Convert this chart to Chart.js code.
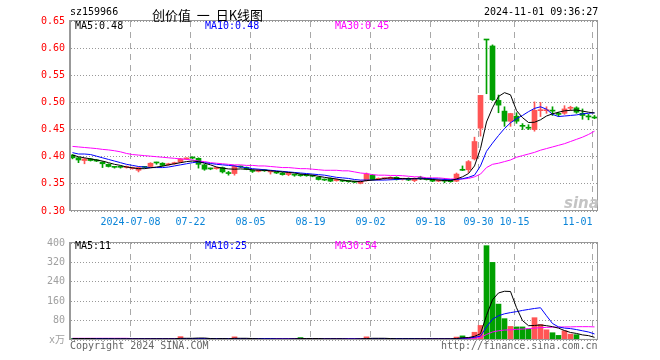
<!DOCTYPE html>
<html>
<head>
<meta charset="utf-8">
<script src="https://cdn.jsdelivr.net/npm/chart.js@4.4.1/dist/chart.umd.min.js"></script>
<style>
body { margin: 0; width: 660px; height: 360px; position: relative; background: #fff; overflow: hidden;
       font-family: 'DejaVu Sans Mono', monospace; font-size: 10px; }
.t { position: absolute; white-space: pre; line-height: 1; }
#price { position: absolute; left: 0; top: 0; }
#vol { position: absolute; left: 0; top: 232px; }
</style>
</head>
<body>
<canvas id="price" width="660" height="232"></canvas>
<canvas id="vol" width="660" height="128"></canvas>

<div class="t" style="left:70px;top:7px">sz159966</div>
<div class="t" style="left:152px;top:5px;font:13px 'Noto Sans CJK SC'">创价值  一  日K线图</div>
<div class="t" style="left:484px;top:7px">2024-11-01 09:36:27</div>
<div class="t" style="left:75px;top:21px;color:#000">MA5:0.48</div>
<div class="t" style="left:205px;top:21px;color:#0000ff">MA10:0.48</div>
<div class="t" style="left:335px;top:21px;color:#ff00ff">MA30:0.45</div>
<div class="t" style="left:75px;top:241px;color:#000">MA5:11</div>
<div class="t" style="left:205px;top:241px;color:#0000ff">MA10:25</div>
<div class="t" style="left:335px;top:241px;color:#ff00ff">MA30:54</div>
<div class="t" style="left:70px;top:341px;color:#666">Copyright 2024 SINA.COM</div>
<div class="t" style="left:441px;top:341px;color:#666">http://finance.sina.com.cn</div>
<div class="t" style="left:564px;top:194px;color:#c4c4c4;font:italic bold 15px 'DejaVu Sans'">sina</div>

<script>
// daily K, 2024-06-24 .. 2024-11-01 (88 sessions)
const tickIdx = [10, 20, 30, 40, 50, 60, 68, 74, 87];
const tickLabels = ['2024-07-08', '07-22', '08-05', '08-19', '09-02', '09-18', '09-30', '10-15', '11-01     '];
const priceTicks = [0.30, 0.35, 0.40, 0.45, 0.50, 0.55, 0.60, 0.65];
const volTicks = [0, 80, 160, 240, 320, 400];

const open = [0.403,0.398,0.393,0.396,0.394,0.390,0.386,0.381,0.381,0.380,
  0.378,0.375,0.381,0.382,0.389,0.388,0.385,0.387,0.390,0.396,
  0.398,0.397,0.385,0.378,0.378,0.380,0.3695,0.369,0.3815,0.380,
  0.3735,0.373,0.3745,0.372,0.3705,0.370,0.367,0.3665,0.367,0.3655,
  0.3645,0.362,0.3575,0.360,0.356,0.3555,0.3545,0.3535,0.351,0.356,
  0.366,0.358,0.3595,0.359,0.362,0.3585,0.360,0.356,0.3605,0.3585,
  0.358,0.355,0.3555,0.357,0.355,0.3755,0.376,0.396,0.4525,0.616,
  0.604,0.5037,0.484,0.4654,0.4747,0.4565,0.453,0.450,0.4848,0.4848,
  0.4845,0.4785,0.480,0.4892,0.490,0.480,0.4738,0.4718];
const high = [0.404,0.399,0.397,0.397,0.395,0.391,0.387,0.382,0.383,0.383,
  0.381,0.381,0.382,0.389,0.390,0.389,0.388,0.390,0.397,0.398,
  0.400,0.398,0.386,0.379,0.381,0.381,0.373,0.384,0.383,0.381,
  0.376,0.377,0.376,0.374,0.372,0.371,0.371,0.368,0.368,0.367,
  0.366,0.363,0.359,0.361,0.359,0.357,0.356,0.355,0.356,0.370,
  0.367,0.361,0.361,0.363,0.363,0.360,0.361,0.361,0.364,0.360,
  0.359,0.358,0.360,0.358,0.370,0.383,0.393,0.436,0.513,0.616,
  0.606,0.5136,0.492,0.480,0.481,0.461,0.459,0.501,0.500,0.492,
  0.492,0.482,0.494,0.493,0.492,0.488,0.478,0.476];
const low = [0.396,0.389,0.387,0.392,0.391,0.380,0.381,0.379,0.379,0.379,
  0.377,0.372,0.379,0.381,0.386,0.383,0.384,0.386,0.389,0.395,
  0.396,0.379,0.375,0.376,0.377,0.370,0.366,0.366,0.380,0.376,
  0.371,0.372,0.373,0.368,0.369,0.366,0.365,0.364,0.364,0.364,
  0.363,0.357,0.356,0.354,0.355,0.354,0.353,0.352,0.350,0.355,
  0.357,0.357,0.358,0.358,0.357,0.357,0.356,0.354,0.358,0.357,
  0.354,0.354,0.352,0.353,0.354,0.3745,0.371,0.394,0.438,0.516,
  0.503,0.481,0.456,0.456,0.4615,0.450,0.450,0.447,0.474,0.480,
  0.476,0.474,0.478,0.485,0.480,0.469,0.468,0.470];
const close = [0.398,0.394,0.396,0.393,0.392,0.387,0.382,0.3805,0.3805,0.382,
  0.380,0.380,0.3805,0.388,0.3885,0.384,0.387,0.389,0.396,0.397,
  0.3975,0.386,0.377,0.3775,0.380,0.372,0.369,0.383,0.381,0.377,
  0.373,0.376,0.374,0.3725,0.370,0.367,0.370,0.366,0.365,0.365,
  0.364,0.358,0.357,0.355,0.358,0.355,0.354,0.353,0.355,0.368,
  0.358,0.360,0.360,0.362,0.358,0.359,0.357,0.360,0.360,0.358,
  0.355,0.357,0.355,0.354,0.368,0.375,0.391,0.428,0.513,0.615,
  0.505,0.495,0.4654,0.4796,0.4654,0.456,0.4525,0.4855,0.4853,0.4853,
  0.484,0.478,0.488,0.4897,0.482,0.476,0.4733,0.4713];

const ma5 = [0.403,0.400,0.398,0.396,0.394,0.392,0.389,0.386,0.384,0.381,
  0.3795,0.378,0.378,0.3795,0.381,0.3825,0.385,0.387,0.389,0.391,
  0.392,0.391,0.388,0.385,0.381,0.379,0.3775,0.377,0.3775,0.377,
  0.376,0.375,0.375,0.374,0.373,0.372,0.371,0.370,0.368,0.367,
  0.366,0.364,0.362,0.3605,0.359,0.357,0.3555,0.3548,0.354,0.356,
  0.357,0.358,0.360,0.361,0.360,0.3598,0.3595,0.3595,0.359,0.359,
  0.358,0.357,0.356,0.356,0.359,0.363,0.369,0.383,0.415,0.464,
  0.490,0.511,0.518,0.514,0.485,0.472,0.463,0.4635,0.468,0.475,
  0.479,0.482,0.4845,0.4855,0.486,0.484,0.482,0.4805];
const ma10 = [0.4075,0.405,0.405,0.404,0.401,0.398,0.395,0.392,0.389,0.386,
  0.384,0.382,0.381,0.380,0.380,0.380,0.381,0.383,0.385,0.387,
  0.389,0.3905,0.389,0.3875,0.386,0.385,0.384,0.383,0.381,0.380,
  0.378,0.377,0.376,0.375,0.374,0.373,0.372,0.371,0.370,0.369,
  0.368,0.367,0.366,0.364,0.362,0.361,0.360,0.358,0.357,0.357,
  0.357,0.357,0.357,0.3575,0.358,0.359,0.359,0.3595,0.360,0.360,
  0.3595,0.359,0.358,0.3575,0.358,0.3595,0.362,0.366,0.383,0.410,
  0.425,0.439,0.452,0.4625,0.470,0.476,0.483,0.489,0.492,0.4875,
  0.478,0.474,0.475,0.476,0.477,0.479,0.480,0.481];
const ma30 = [0.419,0.418,0.417,0.416,0.415,0.4135,0.4125,0.411,0.409,0.406,
  0.404,0.403,0.402,0.401,0.400,0.399,0.398,0.397,0.396,0.395,
  0.394,0.392,0.391,0.389,0.388,0.387,0.386,0.385,0.385,0.384,
  0.384,0.383,0.383,0.382,0.381,0.380,0.380,0.379,0.378,0.378,
  0.377,0.376,0.375,0.375,0.375,0.374,0.374,0.372,0.370,0.369,
  0.367,0.366,0.366,0.3655,0.3655,0.365,0.364,0.363,0.363,0.361,
  0.361,0.361,0.360,0.359,0.359,0.359,0.360,0.363,0.368,0.380,
  0.386,0.388,0.391,0.394,0.399,0.402,0.405,0.408,0.412,0.415,
  0.418,0.421,0.424,0.428,0.432,0.436,0.441,0.447];

// volume, 万
const volume = [6,5,7,5,4,6,5,4,5,4,
  5,7,4,6,5,4,5,6,14,6,
  5,7,6,4,5,6,5,13,5,4,
  4,5,4,4,5,4,4,6,10,5,
  4,5,4,5,5,4,4,4,6,13,
  7,5,4,5,6,4,5,6,5,4,
  5,4,6,5,12,17,10,32,60,389,
  320,148,88,56,54,54,45,92,64,42,
  30,19,38,24,22,3,3,3];
const volMa5 = [6,6,6,6,5,5,5,5,5,5,
  5,5,5,5,5,5,5,5,7,7,
  7,8,8,6,5,6,5,7,7,7,
  6,5,4,4,4,4,4,5,6,6,
  6,6,5,5,5,5,4,4,5,6,
  7,7,7,6,5,5,5,5,5,5,
  5,5,5,5,6,9,10,15,26,101,
  166,194,201,200,133,80,59,60,62,59,
  55,49,39,31,27,21,18,11];
const volMa10 = [6,6,6,6,6,6,6,5,5,5,
  5,5,5,5,5,5,5,5,6,6,
  6,6,6,6,6,6,6,6,6,6,
  6,6,6,6,5,5,5,5,5,5,
  5,5,5,5,5,5,5,5,5,5,
  6,6,6,6,6,6,6,6,5,5,
  5,5,5,5,6,7,8,11,16,54,
  86,100,108,113,117,122,126,130,133,100,
  68,54,49,47,43,38,33,25];
const volMa30 = [7,7,7,7,7,7,7,7,7,7,
  6,6,6,6,6,6,6,6,6,6,
  6,6,6,6,6,6,6,6,6,6,
  6,6,6,6,6,6,6,6,6,6,
  6,6,6,6,6,6,6,6,6,6,
  6,6,6,6,6,6,6,6,6,6,
  6,6,6,6,6,7,7,8,10,23,
  33,38,41,42,44,45,47,49,51,52,
  53,53,54,54,55,55,55,54];

const MONO = "'DejaVu Sans Mono', 'Noto Sans CJK SC', monospace";
const UP = '#ff5555';
const DOWN = '#00a000';
const candleColor = close.map((c, i) => (c >= open[i] ? UP : DOWN));
const xMin = -5 / 12;
const xMax = 87 + 7 / 12;

// grid + frame, placed through the chart's own scales
function framePlugin(yTicks) {
  return {
    id: 'frame',
    afterDraw(chart) {
      const { ctx, chartArea: a } = chart;
      const xs = chart.scales.x;
      const ys = chart.scales.y;
      ctx.save();
      ctx.globalCompositeOperation = 'destination-over';
      ctx.fillStyle = '#a8a8a8';
      tickIdx.forEach(i => {
        const px = Math.round(xs.getPixelForValue(i - 1 / 3) - 0.5);
        for (let y = a.top; y < a.bottom; y += 11) {
          ctx.fillRect(px, y, 1, Math.min(6, a.bottom - y));
        }
      });
      ctx.fillStyle = '#999999';
      yTicks.forEach(v => {
        const py = Math.round(ys.getPixelForValue(v) - 0.5);
        for (let x = a.left + 1; x < a.right; x += 3) {
          ctx.fillRect(x, py, 1, 1);
        }
      });
      ctx.globalCompositeOperation = 'source-over';
      ctx.fillStyle = '#999999';
      ctx.fillRect(a.left - 1, a.top - 1, 2, a.bottom - a.top + 1);
      ctx.fillRect(a.left, a.top - 1, a.right - a.left, 1);
      ctx.fillRect(a.right - 1, a.top - 1, 1, a.bottom - a.top + 1);
      ctx.fillRect(a.left, a.bottom - 1, a.right - a.left, 1);
      ctx.restore();
    }
  };
}

function xAxis(labels) {
  return {
    type: 'linear', min: xMin, max: xMax, offset: false,
    afterBuildTicks: ax => { ax.ticks = tickIdx.map(i => ({ value: i - 1 / 3 })); },
    afterFit: ax => { ax.height = labels ? 21 : 20; },
    grid: { display: false, drawTicks: false },
    border: { display: false },
    ticks: {
      display: labels, autoSkip: false, maxRotation: 0, padding: 5,
      color: '#0a84d8', font: { family: MONO, size: 10 },
      callback: (v, i) => tickLabels[i]
    }
  };
}

function line(values, color) {
  return {
    type: 'line', order: 0,
    data: values.map((v, i) => ({ x: i, y: v })),
    borderColor: color, borderWidth: 1, pointRadius: 0, tension: 0
  };
}

new Chart(document.getElementById('price'), {
  type: 'bar',
  data: {
    datasets: [
      line(ma5, '#000000'),
      line(ma10, '#0000ff'),
      line(ma30, '#ff00ff'),
      {
        order: 1, grouped: false, barThickness: 1,
        data: low.map((l, i) => ({ x: i, y: [l, high[i]] })),
        backgroundColor: candleColor
      },
      {
        order: 1, grouped: false, barThickness: 5, minBarLength: 1,
        data: open.map((o, i) => ({ x: i, y: [o, close[i]] })),
        backgroundColor: candleColor
      }
    ]
  },
  options: {
    responsive: false, animation: false, devicePixelRatio: 1,
    layout: { padding: { left: 0, right: 62, top: 21, bottom: 0 } },
    plugins: { legend: { display: false }, tooltip: { enabled: false } },
    scales: {
      x: xAxis(true),
      y: {
        min: 0.30, max: 0.65,
        afterBuildTicks: ax => { ax.ticks = priceTicks.map(v => ({ value: v })); },
        afterFit: ax => { ax.width = 70; },
        grid: { display: false, drawTicks: false },
        border: { display: false },
        ticks: { color: '#ff0000', padding: 5, font: { family: MONO, size: 10 }, callback: v => v.toFixed(2) }
      }
    }
  },
  plugins: [framePlugin(priceTicks)]
});

new Chart(document.getElementById('vol'), {
  type: 'bar',
  data: {
    datasets: [
      line(volMa5, '#000000'),
      line(volMa10, '#0000ff'),
      line(volMa30, '#ff00ff'),
      {
        order: 1, grouped: false, barThickness: 5,
        data: volume.map((v, i) => ({ x: i, y: v })),
        backgroundColor: candleColor
      }
    ]
  },
  options: {
    responsive: false, animation: false, devicePixelRatio: 1,
    layout: { padding: { left: 0, right: 62, top: 8, bottom: 0 } },
    plugins: { legend: { display: false }, tooltip: { enabled: false } },
    scales: {
      x: xAxis(false),
      y: {
        min: 0, max: 400,
        afterBuildTicks: ax => { ax.ticks = volTicks.map(v => ({ value: v })); },
        afterFit: ax => { ax.width = 70; },
        grid: { display: false, drawTicks: false },
        border: { display: false },
        ticks: { color: '#a0a0a0', padding: 5, font: { family: MONO, size: 10 }, callback: v => (v === 0 ? 'x万' : v) }
      }
    }
  },
  plugins: [framePlugin(volTicks)]
});
</script>
</body>
</html>
